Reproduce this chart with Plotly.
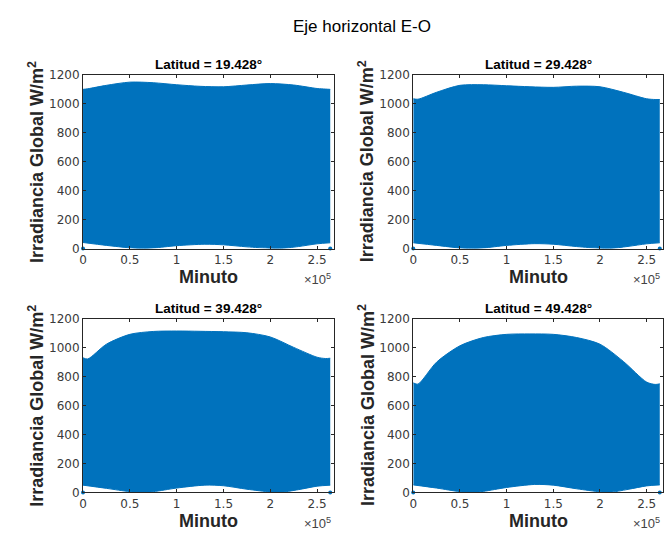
import plotly.graph_objects as go

# Minute of the simulated period (x) and daily irradiance envelopes per latitude
latitudes = ["19.428", "29.428", "39.428", "49.428"]

x_upper = [0, 5000, 25000, 50000, 75000, 100000, 125000, 150000, 175000, 200000, 225000, 250000, 259000, 264000]
upper = {
    "19.428": [1100, 1104, 1128, 1150, 1146, 1132, 1121, 1118, 1130, 1140, 1130, 1106, 1102, 1100],
    "29.428": [1035, 1032, 1080, 1128, 1132, 1125, 1118, 1114, 1122, 1118, 1080, 1035, 1030, 1030],
    "39.428": [930, 922, 1024, 1092, 1112, 1115, 1113, 1110, 1103, 1074, 1002, 934, 925, 927],
    "49.428": [757, 748, 900, 1013, 1070, 1092, 1095, 1092, 1070, 1024, 905, 762, 746, 750],
}

x_lower = [0, 25000, 50000, 62000, 75000, 100000, 130000, 150000, 175000, 200000, 210000, 230000, 250000, 264000]
lower = {
    "19.428": [42, 22, 5, 0, 4, 20, 30, 26, 12, 2, 0, 14, 33, 40],
    "29.428": [40, 22, 4, 0, 4, 22, 34, 30, 14, 2, 0, 15, 33, 40],
    "39.428": [50, 28, 5, 0, 5, 30, 50, 46, 22, 3, 0, 19, 43, 50],
    "49.428": [52, 30, 5, 0, 7, 34, 55, 50, 25, 4, 0, 21, 45, 52],
}

x_ticks = [0, 50000, 100000, 150000, 200000, 250000]
x_tick_text = ["0", "0.5", "1", "1.5", "2", "2.5"]
y_ticks = [0, 200, 400, 600, 800, 1000, 1200]

W, H = 668, 541
BLUE = "#0072BD"
AXC = "#262626"
FONT = "Liberation Sans, Arial, Helvetica, sans-serif"


def px(x):
    return x / W


def py(y):
    return 1 - y / H


# Plot-area boxes in pixels: (left, right, top, bottom)
boxes = [
    (79.5, 331.5, 69.7, 248.0),
    (411.7, 663.0, 69.7, 248.0),
    (79.5, 331.5, 320.0, 498.3),
    (411.7, 663.0, 320.0, 498.3),
]

fig = go.Figure()
annotations = []

for i, lat in enumerate(latitudes):
    n = i + 1
    xa = "x" if n == 1 else f"x{n}"
    ya = "y" if n == 1 else f"y{n}"
    left, right, top, bottom = boxes[i]

    # lower edge of the daily oscillation band
    fig.add_trace(go.Scatter(
        x=x_lower, y=lower[lat], mode="lines",
        line=dict(color=BLUE, width=1, shape="spline", smoothing=0.8),
        xaxis=xa, yaxis=ya, showlegend=False, hoverinfo="skip",
    ))
    # upper edge, filled down to the lower edge
    fig.add_trace(go.Scatter(
        x=x_upper, y=upper[lat], mode="lines", fill="tonexty",
        fillcolor=BLUE,
        line=dict(color=BLUE, width=1, shape="spline", smoothing=0.8),
        xaxis=xa, yaxis=ya, showlegend=False, hoverinfo="skip",
    ))
    fig.add_trace(go.Scatter(
        x=[x_lower[0], x_lower[-1]], y=[0, 0], mode="markers",
        marker=dict(color=BLUE, size=4), xaxis=xa, yaxis=ya,
        showlegend=False, cliponaxis=False,
    ))

    axis_common = dict(
        showline=True, linecolor=AXC, linewidth=1, mirror="ticks",
        ticks="inside", ticklen=3, tickcolor=AXC, tickwidth=1,
        showgrid=False, zeroline=False,
        tickfont=dict(family="DejaVu Sans, sans-serif", size=12, color="#3a3a3a"),
    )
    fig.layout[f"xaxis{'' if n == 1 else n}"] = dict(
        axis_common, domain=[px(left), px(right)], range=[0, 267500],
        tickvals=x_ticks, ticktext=x_tick_text, anchor=ya,
    )
    fig.layout[f"yaxis{'' if n == 1 else n}"] = dict(
        axis_common, domain=[py(bottom), py(top)], range=[0, 1200],
        tickvals=y_ticks, anchor=xa,
    )

    cx = (left + right) / 2
    annotations.append(dict(
        text=f"<b>Latitud = {lat}°</b>", x=px(cx), y=py(top - 11),
        xref="paper", yref="paper", showarrow=False,
        font=dict(family=FONT, size=13.5, color="#000000"),
        xanchor="center", yanchor="middle",
    ))
    annotations.append(dict(
        text="<b>Minuto</b>", x=px(cx), y=py(bottom + 29),
        xref="paper", yref="paper", showarrow=False,
        font=dict(family=FONT, size=18, color="#262626"),
        xanchor="center", yanchor="middle",
    ))
    annotations.append(dict(
        text="×10<sup>5</sup>", x=px(right - 1), y=py(bottom + 31),
        xref="paper", yref="paper", showarrow=False,
        font=dict(family=FONT, size=13, color="#444444"),
        xanchor="right", yanchor="middle",
    ))
    annotations.append(dict(
        text="<b>Irradiancia Global W/m<sup>2</sup></b>",
        x=px(left - 47), y=py((top + bottom) / 2),
        xref="paper", yref="paper", showarrow=False, textangle=-90,
        font=dict(family=FONT, size=18, color="#262626"),
        xanchor="center", yanchor="middle",
    ))

annotations.append(dict(
    text="Eje horizontal E-O", x=px(360), y=py(20),
    xref="paper", yref="paper", showarrow=False,
    font=dict(family=FONT, size=17, color="#000000"),
    xanchor="center", yanchor="middle",
))

fig.update_layout(
    width=W, height=H,
    margin=dict(l=0, r=0, t=0, b=0),
    paper_bgcolor="white", plot_bgcolor="white",
    annotations=annotations, showlegend=False,
)

fig.write_html("out.html")
